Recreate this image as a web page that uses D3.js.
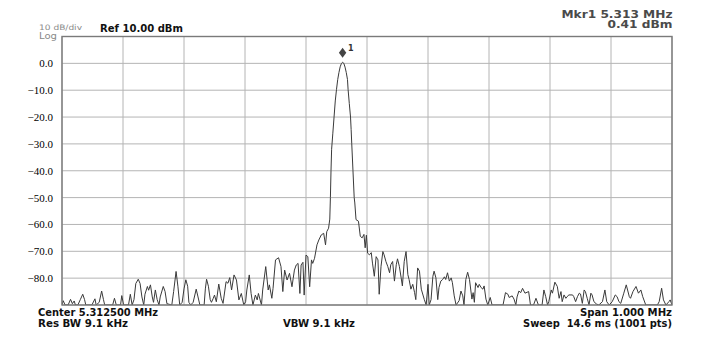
<!DOCTYPE html>
<html>
<head>
<meta charset="utf-8">
<script src="https://cdn.jsdelivr.net/npm/d3@7"></script>
<style>
  body { margin: 0; background: #fff; }
  .hdr { font-family: "DejaVu Sans", Verdana, sans-serif; }
</style>
</head>
<body>
<div id="chart"></div>
<script>
// setting svg width and height
var svgWidth = 715;
var svgHeight = 348;

var margin = { top: 36.5, right: 43, bottom: 43, left: 62 };
var width = 672 - margin.left;
var height = 305 - margin.top;

// y ticks shown on the left (dBm)
var yTicks = [0, -10, -20, -30, -40, -50, -60, -70, -80];

// trace vertices: sweep point (0..1000) and level (dBm)
var tracePts = [
  0, 2, 5, 10, 14, 17, 20, 22, 26, 30, 34, 37, 39, 49, 54, 56, 61, 65, 68, 70,
  83, 86, 89, 96, 98, 101, 109, 112, 115, 118, 121, 125, 128, 131, 134, 136, 140, 142, 145, 148,
  150, 153, 156, 159, 161, 166, 169, 172, 180, 183, 187, 190, 193, 197, 200, 203, 206, 208, 211, 215,
  220, 223, 226, 233, 235, 237, 240, 243, 245, 248, 250, 253, 257, 261, 264, 269, 272, 275, 278, 282,
  286, 290, 294, 298, 301, 303, 307, 310, 313, 317, 320, 322, 327, 329, 334, 338, 340, 344, 346, 350,
  355, 359, 362, 365, 369, 373, 377, 379, 381, 384, 387, 390, 392, 395, 397, 400, 403, 406, 409, 411,
  414, 418, 421, 425, 429, 432, 434, 437, 439, 440, 441, 442, 444, 446, 448, 450, 452, 454, 456, 458,
  460, 462, 464, 466, 468, 469, 471, 473, 474, 475, 477, 479, 480, 482, 486, 489, 492, 495, 497, 499,
  501, 504, 507, 509, 512, 515, 518, 520, 523, 526, 528, 531, 534, 537, 539, 542, 545, 548, 550, 553,
  556, 558, 561, 564, 567, 569, 572, 575, 578, 580, 583, 586, 589, 594, 597, 600, 602, 605, 608, 610,
  613, 616, 618, 621, 624, 627, 629, 632, 635, 638, 640, 643, 646, 651, 654, 657, 659, 662, 665, 668,
  672, 674, 676, 678, 682, 684, 687, 690, 692, 695, 698, 702, 705, 723, 727, 731, 733, 738, 741, 744,
  746, 749, 752, 755, 759, 765, 768, 773, 777, 781, 787, 790, 793, 796, 798, 802, 804, 808, 812, 815,
  818, 820, 823, 826, 828, 831, 837, 839, 842, 845, 848, 850, 853, 856, 858, 861, 864, 867, 869, 872,
  876, 880, 886, 890, 893, 897, 902, 907, 910, 913, 916, 921, 925, 930, 932, 936, 941, 945, 949, 952,
  957, 976, 979, 983, 986, 990, 995, 997, 1000
];
var traceDbm = [
  -90, -88.4, -90, -90, -87.9, -89.5, -88.5, -90, -90, -88, -86, -88, -90, -90, -87.7, -90, -89, -84.8, -88, -90,
  -90, -87.5, -90, -90, -86.5, -90, -90, -86, -90, -88, -82, -80.4, -82, -87, -90, -86, -83.1, -84.5, -82.5, -87,
  -89, -84.4, -88, -90, -87, -83.1, -85, -89.5, -90, -85, -77.5, -83, -90, -89, -84, -80.6, -83, -89, -90, -89,
  -84.1, -87, -90, -90, -84, -80.4, -83, -88, -89, -87.5, -86.3, -88.8, -82.2, -87.5, -89.4, -81.3, -81.9, -79.8, -84.4, -78.8,
  -80.7, -88.1, -85.7, -90, -88.8, -84.4, -78.8, -85.7, -90, -86.3, -88.1, -85.7, -90, -84.4, -75.7, -84.4, -82.5, -87.5, -83.8, -73.2,
  -72.4, -75.7, -85, -77, -80.7, -78.2, -83.2, -80.1, -77, -75.1, -74.5, -85.7, -75.1, -74.1, -86.3, -71.4, -72, -83.2, -73.2, -74.5,
  -72.6, -67.6, -65.8, -63.9, -63.3, -67.6, -62.7, -61.4, -58, -50, -40, -32, -26, -20, -14, -9.7, -6, -3.4, -1.3, -0.1,
  0.41, 0, -1.4, -3.4, -6, -9.7, -15, -20, -24.6, -30, -40, -50, -52, -58.2, -58.8, -64.4, -65, -63.7, -68.7, -64,
  -70.7, -71.3, -70.5, -74.4, -79.3, -72, -73.2, -86, -75.6, -70.1, -71.3, -73.8, -75.6, -78, -75, -73.8, -81.1, -75, -72.8, -75.6,
  -79.9, -82.9, -73.8, -70.1, -78.7, -80.5, -84.1, -82.3, -85.4, -88, -76.2, -77.4, -84.1, -88, -90, -82.3, -90, -88, -79.3, -77.4,
  -79.9, -88, -83.5, -81.1, -80.5, -79.5, -80.5, -78, -81.1, -79.9, -81.7, -86.6, -90, -88.4, -84.8, -86.6, -90, -80.5, -77.8, -80.5,
  -87.8, -85.4, -89, -81.7, -83.5, -82.3, -83.5, -84.1, -82.9, -87.8, -90, -87.2, -90, -90, -85.4, -86, -87.2, -86.6, -87.8, -90,
  -87, -84.8, -85.4, -83.8, -85.6, -85, -90, -90, -87.5, -90, -90, -84.4, -86.9, -90, -88.75, -84.4, -85.6, -81.5, -83.1, -87.5,
  -85, -88.75, -86.25, -87.5, -86.9, -86.25, -86.25, -86.9, -88.75, -86.9, -85.6, -85.9, -89.4, -84.4, -85, -87.5, -90, -85.6, -86.25, -88.75,
  -89.6, -90, -88.75, -84.4, -88.75, -90, -88.75, -86.25, -86.9, -88.75, -89.4, -85.6, -82.5, -86.9, -87.5, -85, -83.1, -85.6, -84.4, -86.9,
  -90, -90, -88.75, -83.75, -88.1, -90, -88.75, -88.1, -90
];

var markerPt = 460;
var markerDbm = 0.41;

var svg = d3.select("#chart")
  .append("svg")
  .attr("width", svgWidth)
  .attr("height", svgHeight);

var chartGroup = svg.append("g")
  .attr("transform", `translate(${margin.left}, ${margin.top})`);

// scales
var xLinearScale = d3.scaleLinear()
  .domain([0, 1000])
  .range([0, width]);

var yLinearScale = d3.scaleLinear()
  .domain([-90, 10])
  .range([height, 0]);

// grid lines
chartGroup.append("g")
  .selectAll("line")
  .data(d3.range(0, 1001, 100))
  .enter()
  .append("line")
  .attr("x1", d => xLinearScale(d))
  .attr("x2", d => xLinearScale(d))
  .attr("y1", 0)
  .attr("y2", height)
  .attr("stroke", "#b4b4b4")
  .attr("stroke-width", 1);

chartGroup.append("g")
  .selectAll("line")
  .data(d3.range(-90, 11, 10))
  .enter()
  .append("line")
  .attr("x1", 0)
  .attr("x2", width)
  .attr("y1", d => yLinearScale(d))
  .attr("y2", d => yLinearScale(d))
  .attr("stroke", "#b4b4b4")
  .attr("stroke-width", 1);

// left axis labels only
var leftAxis = d3.axisLeft(yLinearScale)
  .tickValues(yTicks)
  .tickFormat(d3.format(".1f"))
  .tickSize(0)
  .tickPadding(9);

var yAxisG = chartGroup.append("g").call(leftAxis);
yAxisG.select(".domain").remove();
yAxisG.selectAll("text")
  .style("font-family", "'Liberation Serif', 'Times New Roman', serif")
  .style("font-size", "11px")
  .style("fill", "#000");

// trace
var traceData = tracePts.map((p, i) => ({ p: p, v: traceDbm[i] }));

chartGroup.append("clipPath")
  .attr("id", "plotclip")
  .append("rect")
  .attr("width", width)
  .attr("height", height);

var line = d3.line()
  .x(d => xLinearScale(d.p))
  .y(d => yLinearScale(Math.max(d.v, -90)));

chartGroup.append("path")
  .datum(traceData)
  .attr("clip-path", "url(#plotclip)")
  .attr("d", line)
  .attr("fill", "none")
  .attr("stroke", "#3a3a3a")
  .attr("stroke-width", 1);

// plot frame
chartGroup.append("rect")
  .attr("width", width)
  .attr("height", height)
  .attr("fill", "none")
  .attr("stroke", "#7a7a7a")
  .attr("stroke-width", 1.4);

// marker diamond
var mx = xLinearScale(markerPt);
var my = yLinearScale(markerDbm) - 9.5;
chartGroup.append("path")
  .attr("d", `M${mx},${my - 5} L${mx + 3.7},${my} L${mx},${my + 5} L${mx - 3.7},${my} Z`)
  .attr("fill", "#444");
chartGroup.append("text")
  .attr("class", "hdr")
  .attr("x", mx + 5.5)
  .attr("y", my - 2)
  .style("font-size", "8px")
  .style("font-weight", "bold")
  .style("fill", "#333")
  .text("1");

// header and footer texts, with the widths they take in the picture
var labels = [
  { t: "10 dB/div", x: 39, y: 30, w: 43, s: 7.5, b: false, c: "#8a8a8a", a: "start" },
  { t: "Log", x: 39, y: 38.5, w: 18, s: 8.5, b: false, c: "#8a8a8a", a: "start" },
  { t: "Ref 10.00 dBm", x: 100, y: 31.5, w: 83, s: 10, b: true, c: "#111", a: "start" },
  { t: "Mkr1 5.313 MHz", x: 672.5, y: 17.5, w: 111, s: 10.5, b: true, c: "#4a4a4a", a: "end" },
  { t: "0.41 dBm", x: 672.5, y: 28, w: 65, s: 10.5, b: true, c: "#4a4a4a", a: "end" },
  { t: "Center 5.312500 MHz", x: 38, y: 316, w: 120, s: 10, b: true, c: "#111", a: "start" },
  { t: "Res BW 9.1 kHz", x: 38, y: 326.5, w: 90, s: 10, b: true, c: "#111", a: "start" },
  { t: "VBW 9.1 kHz", x: 283, y: 326.5, w: 72, s: 10, b: true, c: "#111", a: "start" },
  { t: "Span 1.000 MHz", x: 672, y: 316, w: 92, s: 10, b: true, c: "#111", a: "end" },
  { t: "Sweep  14.6 ms (1001 pts)", x: 672, y: 326.5, w: 149, s: 10, b: true, c: "#111", a: "end" }
];
svg.selectAll(".lbl")
  .data(labels)
  .enter()
  .append("text")
  .attr("class", "hdr lbl")
  .attr("x", d => d.a === "end" ? d.x - d.w : d.x)
  .attr("y", d => d.y)
  .attr("textLength", d => d.w)
  .attr("lengthAdjust", "spacingAndGlyphs")
  .style("font-size", d => d.s + "px")
  .style("font-weight", d => d.b ? "bold" : "normal")
  .style("fill", d => d.c)
  .style("white-space", "pre")
  .text(d => d.t);
</script>
</body>
</html>
